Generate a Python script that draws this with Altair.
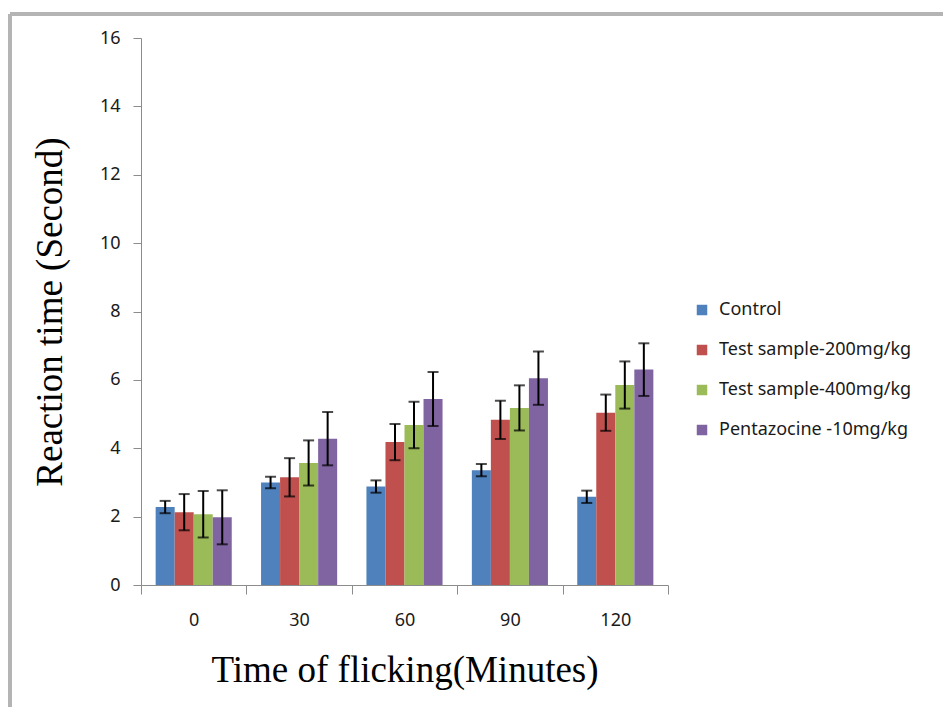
import altair as alt
import pandas as pd

times = ["0", "30", "60", "90", "120"]
groups = ["Control", "Test sample-200mg/kg", "Test sample-400mg/kg", "Pentazocine -10mg/kg"]
colors = ["#4F81BD", "#C0504D", "#9BBB59", "#8064A2"]

control = [2.28, 3.0, 2.88, 3.36, 2.58]
control_err = [0.18, 0.17, 0.18, 0.18, 0.18]
test200 = [2.13, 3.15, 4.18, 4.83, 5.04]
test200_err = [0.53, 0.56, 0.53, 0.56, 0.53]
test400 = [2.07, 3.57, 4.68, 5.18, 5.85]
test400_err = [0.68, 0.66, 0.68, 0.66, 0.69]
penta = [1.98, 4.28, 5.44, 6.05, 6.3]
penta_err = [0.79, 0.78, 0.79, 0.78, 0.77]

series = [(control, control_err), (test200, test200_err), (test400, test400_err), (penta, penta_err)]
rows = []
for g, (vals, errs) in zip(groups, series):
    for t, v, e in zip(times, vals, errs):
        rows.append({"Time": t, "Group": g, "Value": v, "Lo": v - e, "Hi": v + e})
df = pd.DataFrame(rows)

W, H = 527, 547

x_enc = alt.X("Time:N", sort=times,
              scale=alt.Scale(paddingInner=0, paddingOuter=0),
              axis=alt.Axis(title="Time of flicking(Minutes)", labelAngle=0,
                            tickBand="extent", tickSize=9, labelPadding=17,
                            domainColor="#8c8c8c", tickColor="#8c8c8c",
                            labelFont="Noto Sans", labelFontSize=18, labelColor="#1a1a1a",
                            titleFont="Liberation Serif", titleFontSize=37,
                            titleFontWeight="normal", titleColor="#000000",
                            titlePadding=23))
xoff = alt.XOffset("Group:N", sort=groups,
                   scale=alt.Scale(paddingInner=0, paddingOuter=0.77))

bars = alt.Chart(df).mark_bar().encode(
    x=x_enc,
    xOffset=xoff,
    y=alt.Y("Value:Q", scale=alt.Scale(domain=[0, 16], nice=False),
            axis=alt.Axis(title="Reaction time (Second)", values=list(range(0, 17, 2)),
                          grid=False, tickSize=8, labelPadding=13,
                          domainColor="#8c8c8c", tickColor="#8c8c8c",
                          labelFont="Noto Sans", labelFontSize=18, labelColor="#1a1a1a",
                          titleFont="Liberation Serif", titleFontSize=37,
                          titleFontWeight="normal", titleColor="#000000",
                          titlePadding=30)),
    color=alt.Color("Group:N", sort=groups,
                    scale=alt.Scale(domain=groups, range=colors),
                    legend=alt.Legend(title=None, orient="none", legendX=552, legendY=263,
                                      symbolType="square", symbolSize=110,
                                      symbolStrokeWidth=0,
                                      labelFont="Noto Sans", labelFontSize=18,
                                      labelColor="#1a1a1a", rowPadding=22,
                                      labelOffset=8, labelLimit=400)),
)

rules = alt.Chart(df).mark_rule(color="black", strokeWidth=2).encode(
    x=alt.X("Time:N", sort=times), xOffset=xoff,
    y="Lo:Q", y2="Hi:Q")

tick_lo = alt.Chart(df).mark_tick(color="black", size=11, thickness=2).encode(
    x=alt.X("Time:N", sort=times), xOffset=xoff, y="Lo:Q")
tick_hi = alt.Chart(df).mark_tick(color="black", size=11, thickness=2).encode(
    x=alt.X("Time:N", sort=times), xOffset=xoff, y="Hi:Q")

border_top = alt.Chart(df).mark_rule(color="#b4b4b4", strokeWidth=2.5).encode(
    x=alt.value(-131), x2=alt.value(820), y=alt.value(-24))
border_left = alt.Chart(df).mark_rule(color="#b4b4b4", strokeWidth=2.5).encode(
    x=alt.value(-131), y=alt.value(-24), y2=alt.value(700))

chart = alt.layer(bars, rules, tick_lo, tick_hi, border_top, border_left).properties(
    width=W, height=H,
    autosize=alt.AutoSizeParams(type="none"),
    padding={"left": 133, "top": 30, "right": 275, "bottom": 122},
    background="white",
).configure_view(stroke=None)

chart.save("out.html", embed_options={"renderer": "svg", "actions": False})
